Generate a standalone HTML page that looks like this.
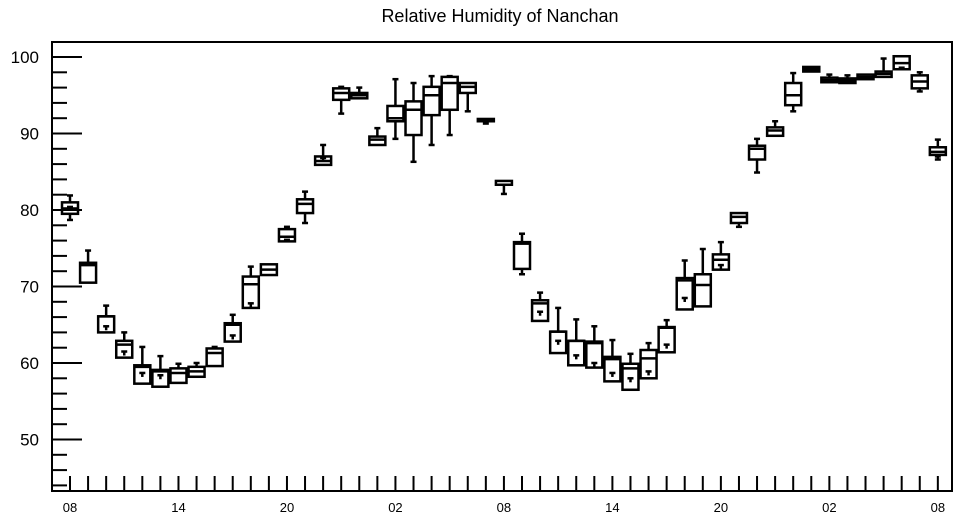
<!DOCTYPE html>
<html><head><meta charset="utf-8"><style>
body{margin:0;background:#fff;}
svg{display:block;font-family:"Liberation Sans",Helvetica,Arial,sans-serif;}
</style></head><body>
<svg id="chart" width="957" height="520" viewBox="0 0 957 520" xmlns="http://www.w3.org/2000/svg">
<text x="500" y="22" font-size="18" text-anchor="middle">Relative Humidity of Nanchan</text>
<rect x="52" y="42" width="900" height="449" fill="none" stroke="#000" stroke-width="2"/>
<g id="axes"></g>
<g id="boxes"></g>
</svg>
<script>
const whiskerHigh=[81.9,74.7,67.5,64.0,62.1,60.9,59.9,60.0,62.1,66.3,72.6,72.9,77.8,82.4,88.5,96.1,96.0,90.7,97.1,96.6,97.5,97.5,96.6,91.9,83.8,76.9,69.2,67.2,65.7,64.8,63.0,61.2,62.6,65.6,73.4,74.9,75.8,79.6,89.3,91.6,97.9,98.7,97.7,97.6,97.7,99.8,100.1,98.0,89.2];
const q3=[81.0,73.1,66.1,62.9,59.7,59.1,59.3,59.5,61.9,65.2,71.3,72.9,77.5,81.4,87.0,95.9,95.3,89.6,93.6,94.2,96.1,97.4,96.6,91.9,83.8,75.8,68.2,64.1,62.9,62.8,60.8,59.9,61.7,64.7,71.1,71.6,74.2,79.6,88.4,90.8,96.6,98.7,97.3,97.2,97.7,98.1,100.1,97.6,88.2];
const median=[80.2,72.8,66.1,62.4,59.5,58.9,58.7,58.9,61.3,65.0,70.3,72.2,76.5,80.8,86.4,95.3,95.0,89.2,92.0,93.1,95.0,96.6,96.1,91.7,83.3,75.6,67.8,64.1,62.9,62.6,60.5,59.3,60.6,64.6,70.8,70.2,73.5,79.1,88.0,90.4,95.0,98.4,97.0,96.9,97.4,97.8,99.2,96.8,87.6];
const q1=[79.5,70.5,64.0,60.7,57.3,56.9,57.4,58.2,59.6,62.8,67.2,71.5,75.9,79.6,85.9,94.4,94.6,88.5,91.6,89.8,92.4,93.1,95.3,91.6,83.3,72.3,65.5,61.3,59.7,59.4,57.6,56.5,58.0,61.4,67.0,67.4,72.2,78.3,86.6,89.7,93.7,98.1,96.7,96.6,97.1,97.4,98.4,95.9,87.2];
const whiskerLow=[78.7,70.5,64.0,60.7,57.3,56.9,57.4,58.2,59.6,62.8,67.2,71.5,75.9,78.3,85.9,92.6,94.6,88.5,89.3,86.3,88.5,89.8,92.9,91.3,82.1,71.6,65.5,61.3,59.7,59.4,57.6,56.5,58.0,61.4,67.0,67.4,72.2,77.8,84.9,89.7,92.9,98.1,96.7,96.6,97.1,97.4,98.4,95.5,86.6];
const meanVals=[80.4,null,64.8,61.5,58.7,58.4,null,null,null,63.6,67.8,null,76.1,null,86.8,null,null,null,null,null,null,null,null,null,null,null,66.7,62.9,61.0,60.0,58.7,58.0,58.9,62.4,68.5,null,72.8,null,null,null,null,null,null,null,null,null,98.6,null,87.0];
const xTickLabels=["08","14","20","02","08","14","20","02","08"];
const yTickLabels=[50,60,70,80,90,100];

const NS="http://www.w3.org/2000/svg";
const X0=70, DX=18.08;
const yScale=v=>57+(100-v)*7.65;
const xScale=i=>X0+i*DX;
function mk(tag,attrs,parent){const e=document.createElementNS(NS,tag);for(const k in attrs)e.setAttribute(k,attrs[k]);parent.appendChild(e);return e;}
const axes=document.getElementById('axes');
// y ticks: minor every 2
for(let v=44;v<=102;v+=2){
  const y=yScale(v); if(y<43||y>490)continue;
  const major=(v%10===0);
  const t=mk('line',{x1:52,x2:major?82:67,y1:y,y2:y,stroke:'#000','stroke-width':2},axes);
  
  
}
yTickLabels.forEach(v=>{
  const t=mk('text',{x:39,y:yScale(v)+6,'font-size':17,'text-anchor':'end'},axes);
  t.textContent=v;
  
  
});
for(let i=0;i<whiskerHigh.length;i++){
  const t=mk('line',{x1:xScale(i),x2:xScale(i),y1:476,y2:491,stroke:'#000','stroke-width':2},axes);
  
  
}
xTickLabels.forEach((s,k)=>{
  const t=mk('text',{x:xScale(k*6),y:512,'font-size':13,'text-anchor':'middle'},axes);
  t.textContent=s;
  
  
});
const boxes=document.getElementById('boxes');
const HW=8;
for(let i=0;i<whiskerHigh.length;i++){
  const g=mk('g',{stroke:'#000','stroke-width':2.5,fill:'none'},boxes);
  
  
  const x=xScale(i);
  const yH=yScale(whiskerHigh[i]),y3=yScale(q3[i]),y1=yScale(q1[i]),yL=yScale(whiskerLow[i]),yM=yScale(median[i]);
  if(yH<y3-0.5){mk('line',{x1:x,x2:x,y1:yH,y2:y3},g);mk('line',{x1:x-3,x2:x+3,y1:yH,y2:yH},g);}
  if(yL>y1+0.5){mk('line',{x1:x,x2:x,y1:y1,y2:yL},g);mk('line',{x1:x-3,x2:x+3,y1:yL,y2:yL},g);}
  mk('rect',{x:x-HW,y:y3,width:2*HW,height:Math.max(1,y1-y3)},g);
  mk('line',{x1:x-HW,x2:x+HW,y1:yM,y2:yM},g);
  if(meanVals[i]!==null){
    const ym=yScale(meanVals[i]);
    mk('line',{x1:x-3,x2:x+3,y1:ym,y2:ym},g);
    mk('line',{x1:x,x2:x,y1:ym,y2:Math.min(ym+4,y1)},g);
  }
}
</script>
</body></html>
